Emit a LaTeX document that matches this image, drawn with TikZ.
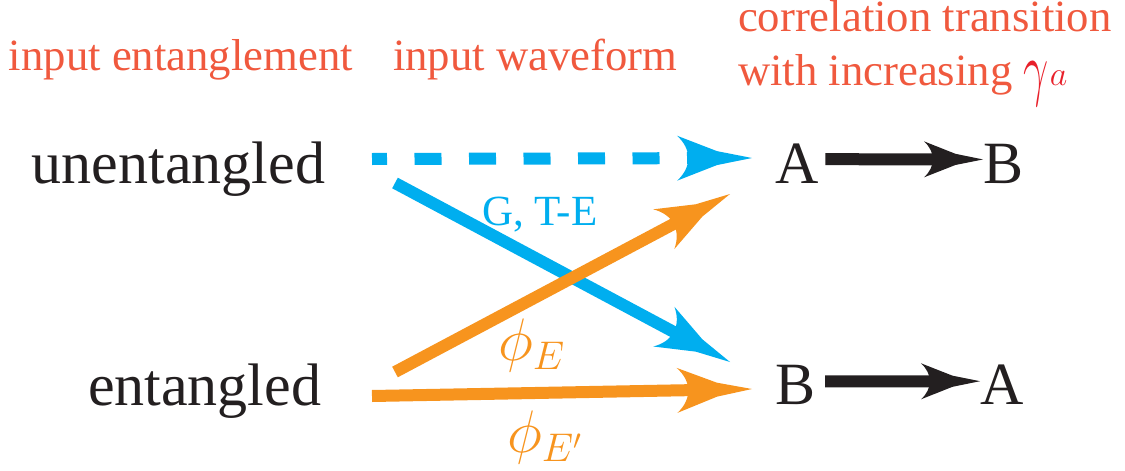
\RequirePackage{fix-cm}
\documentclass[tikz,border=0pt]{standalone}
\usepackage{graphicx}
\usepackage{fontspec}
\setmainfont{Liberation Serif}
\usetikzlibrary{arrows.meta}
\DeclareMathSizes{30}{30}{20}{14}
\definecolor{cblue}{RGB}{0,174,239}
\definecolor{corange}{RGB}{247,148,30}
\definecolor{cred}{RGB}{240,89,62}
\definecolor{cmred}{RGB}{232,32,42}
\definecolor{cblack}{RGB}{35,31,32}
\makeatletter
\pgfdeclarearrow{
  name = AI,
  parameters = {\the\pgfarrowlength,\the\pgfarrowwidth},
  defaults = {length = 20pt, width = 12pt},
  setup code = {
    \pgfarrowssettipend{+0pt}
    \pgfarrowssetlineend{+-.6\pgfarrowlength}
    \pgfarrowssetvisualbackend{+-.85\pgfarrowlength}
    \pgfarrowssetbackend{+-\pgfarrowlength}
    \pgfarrowshullpoint{+0pt}{+0pt}
    \pgfarrowshullpoint{+-\pgfarrowlength}{+.5\pgfarrowwidth}
    \pgfarrowshullpoint{+-\pgfarrowlength}{+-.5\pgfarrowwidth}
    \pgfarrowssavethe\pgfarrowlength
    \pgfarrowssavethe\pgfarrowwidth
  },
  drawing code = {
    \pgfpathmoveto{\pgfqpoint{0pt}{0pt}}
    \pgfpathlineto{\pgfpoint{+-.467\pgfarrowlength}{+.155\pgfarrowwidth}}
    \pgfpathlineto{\pgfpoint{+-\pgfarrowlength}{+.5\pgfarrowwidth}}
    \pgfpathcurveto{\pgfpoint{+-.8\pgfarrowlength}{+.2\pgfarrowwidth}}{\pgfpoint{+-.8\pgfarrowlength}{+-.2\pgfarrowwidth}}{\pgfpoint{+-\pgfarrowlength}{+-.5\pgfarrowwidth}}
    \pgfpathlineto{\pgfpoint{+-.467\pgfarrowlength}{+-.155\pgfarrowwidth}}
    \pgfpathclose
    \pgfusepathqfill
  }
}
\makeatother
\begin{document}
\begin{tikzpicture}[x=0.5pt,y=-0.5pt,
  lbl/.style={inner sep=0pt,outer sep=0pt,anchor=base west},
  headtxt/.style={lbl,text=cred,font=\fontsize{22.35pt}{26pt}\selectfont},
  maintxt/.style={lbl,text=cblack,font=\fontsize{30pt}{36pt}\selectfont},
  conn/.style={line width=6pt},
  bigtip/.style={-{AI[length=37.5pt,width=22.5pt]}},
  smalltip/.style={-{AI[length=29.5pt,width=18pt]}},
]
\useasboundingbox (0,0) rectangle (1125,471);
% headers
\node[headtxt] (h1) at (9,70) {input entanglement};
\node[headtxt] (h2) at (393,70) {input waveform};
\node[headtxt] (h3) at (738,32) {correlation transition};
\node[headtxt] (h4) at (738,85) {with increasing \textcolor{cmred}{\raisebox{-3.5pt}{\scalebox{1}[1.6]{$\gamma$}}\kern0.6pt{\fontsize{17pt}{17pt}\selectfont$a$}}};
% main labels
\node[maintxt] (un) at (32,183) {unentangled};
\node[maintxt] (en) at (88,405) {entangled};
\node[maintxt] (A1) at (775,183) {A};
\node[maintxt] (B1) at (983,183) {B};
\node[maintxt] (B2) at (775,404) {B};
\node[maintxt] (A2) at (980,404) {A};
% connector end points
\coordinate (d0) at (372,159);
\coordinate (d1) at (752,158);
\coordinate (b0) at (395,183);
\coordinate (b1) at (730,362);
\coordinate (o0) at (395,372);
\coordinate (o1) at (730,194);
\coordinate (h0) at (372,396);
\coordinate (hh) at (752,389);
% colored arrows
\draw[conn,cblue,bigtip,dash pattern=on 13.5pt off 13.75pt,dash phase=6pt] (d0) -- (d1);
\draw[conn,cblue,bigtip] (b0) -- (b1);
\draw[conn,corange,bigtip] (o0) -- (o1);
\draw[conn,corange,bigtip] (h0) -- (hh);
% black arrows
\draw[conn,cblack,smalltip] ([xshift=3.5pt,yshift=2pt]A1.east) -- ([yshift=2pt]B1.west);
\draw[conn,cblack,smalltip] ([xshift=5pt,yshift=1.5pt]B2.east) -- ([yshift=1.5pt]A2.west);
% arrow labels
\node[lbl,text=cblue,font=\fontsize{21.5pt}{25pt}\selectfont] (gte) at (482,225) {G, T-E};
\node[lbl,text=corange,font=\fontsize{30pt}{36pt}\selectfont] (phiE) at (498,360) {$\phi_E$};
\node[lbl,text=corange,font=\fontsize{30pt}{36pt}\selectfont] (phiEp) at (507,452) {$\phi_{E'}$};
\end{tikzpicture}
\end{document}
